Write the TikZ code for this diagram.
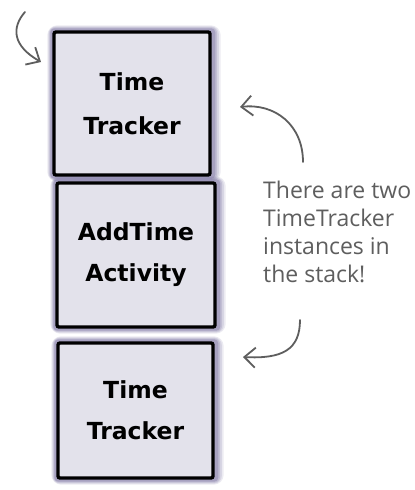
\documentclass[tikz,border=0pt]{standalone}
\usepackage{fontspec}
\newfontfamily\cardfont{DejaVu Sans}
\newfontfamily\notefont{Open Sans}
\usetikzlibrary{arrows.meta,backgrounds,calc}
\definecolor{cardfill}{HTML}{E3E2EB}
\definecolor{halo}{HTML}{6A6195}
\definecolor{notegray}{HTML}{5E5E5E}
\tikzset{
  card/.style={draw=black, line width=3.4pt, fill=cardfill, rounded corners=2pt,
    align=center, inner sep=0pt, font=\cardfont\bfseries\fontsize{23.5}{41}\selectfont},
  note/.style={anchor=base west, inner sep=0pt, text=notegray, font=\notefont\fontsize{23}{23}\selectfont},
  notearrow/.style={draw=notegray, line width=1.8pt, line cap=round,
    -{Straight Barb[length=11pt,width=20pt,line width=1.8pt]}},
}
\begin{document}
\begin{tikzpicture}[x=1pt,y=-1pt]
\useasboundingbox (0,0) rectangle (415,490);

\node[card, minimum width=156pt, minimum height=143pt] (b1) at (132,103.5) {Time\\[3pt]Tracker};
\node[card, minimum width=158pt, minimum height=144pt] (b2) at (136,255) {AddTime\\Activity};
\node[card, minimum width=155pt, minimum height=135pt] (b3) at (135.5,410.5) {Time\\Tracker};

\begin{scope}[on background layer]
  \fill[white] (0,0) rectangle (415,490);
  \foreach \b in {b1,b2,b3}{
    \foreach \e/\o in {10/0.12,8/0.15,6/0.2,4/0.3}{
      \fill[halo, opacity=\o, rounded corners=\e pt]
        ($(\b.north west)+(-\e*0.5,-\e*0.5)$) rectangle ($(\b.south east)+(\e*0.9,\e*0.5)$);
    }
  }
\end{scope}

\node[note] (l1) at (263,198) {There are two};
\node[note] (l2) at (263,226) {TimeTracker};
\node[note] (l3) at (263,254) {instances in};
\node[note] (l4) at (263,282) {the stack!};

\coordinate (s1) at (303,162);
\coordinate (t1) at (240,107);
\draw[notearrow] (s1) .. controls (303,125) and (275,103) .. (t1);

\coordinate (s2) at (300,320);
\coordinate (t2) at (243,357);
\draw[notearrow] (s2) .. controls (300,350) and (282,359) .. (t2);

\coordinate (s3) at (25,12);
\coordinate (t3) at (41,62);
\draw[notearrow] (s3) .. controls (11,28) and (13,46) .. (t3);
\end{tikzpicture}
\end{document}
